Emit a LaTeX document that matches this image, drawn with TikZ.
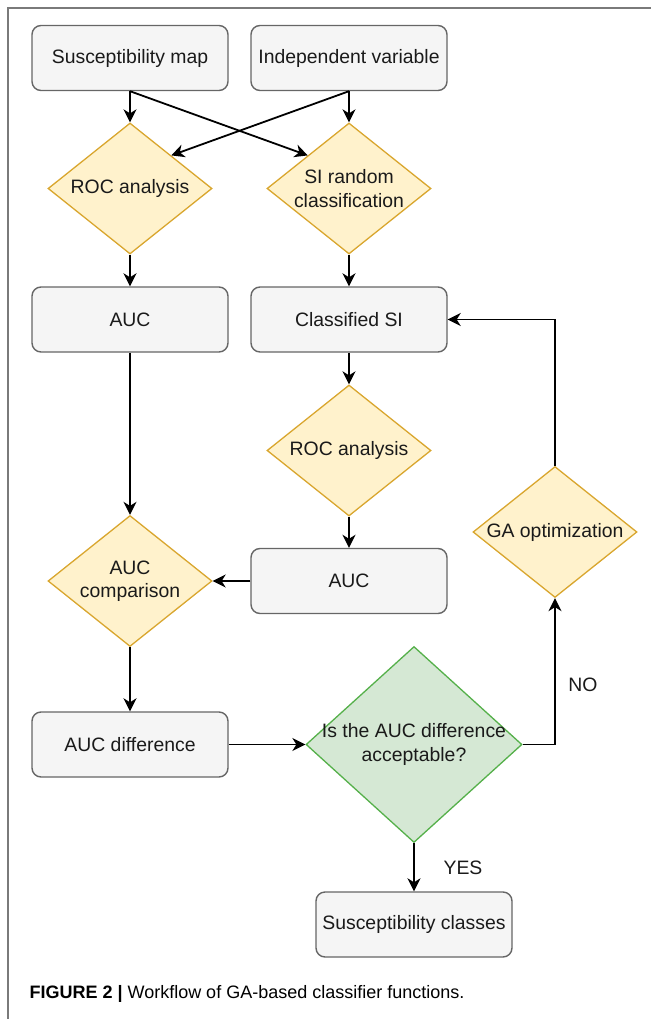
\documentclass[tikz,border=0pt]{standalone}
\usepackage{fontspec}
\setmainfont{Liberation Sans}
\usetikzlibrary{shapes.geometric,arrows.meta}
\definecolor{boxfill}{HTML}{F5F5F5}
\definecolor{boxline}{HTML}{666666}
\definecolor{yelfill}{HTML}{FFF2CC}
\definecolor{yelline}{HTML}{D9A62E}
\definecolor{grnfill}{HTML}{D5E8D4}
\definecolor{grnline}{HTML}{55B04A}
\definecolor{framec}{HTML}{7A7A7A}
\definecolor{txt}{HTML}{1A1A1A}

\begin{document}
\begin{tikzpicture}[x=1pt,y=-1pt,
  font=\fontsize{19.4}{23.3}\selectfont,
  >={Stealth[length=13pt,width=13pt,inset=4pt]},
  proc/.style={draw=boxline,fill=boxfill,line width=1.4pt,rounded corners=9pt,
    minimum width=196pt,minimum height=65pt,text=txt},
  test/.style={diamond,aspect=1.25,draw=yelline,fill=yelfill,line width=1.3pt,
    minimum width=164pt,minimum height=131pt,inner sep=0pt,align=center,text=txt},
  check/.style={test,draw=grnline,fill=grnfill,minimum width=216pt,minimum height=196pt},
  flow/.style={->,line width=1.8pt,black}]
\useasboundingbox (0,0) rectangle (651,1019);
\draw[framec,line width=2pt] (8,1019) -- (8,8) -- (651,8);

% inputs
\node[proc] (sus) at (130,58) {Susceptibility map};
\node[proc] (ind) at (349,58) {Independent variable};
\node[test] (roc1) at (130,188.5) {ROC analysis};
\node[test] (rnd) at (349,188.5) {SI random\\classification};

\node[proc] (auc1) at (130,319.5) {AUC};
\node[proc] (csi) at (349,319.5) {Classified SI};
\node[test] (roc2) at (349,450.5) {ROC analysis};
\node[test] (ga) at (555,532) {GA optimization};
\node[proc] (auc2) at (349,581) {AUC};
\node[test] (cmp) at (130,581) {AUC\\comparison};

\node[proc] (diff) at (130,744.5) {AUC difference};
\node[check,label={[align=center,text=txt]center:Is the AUC difference\\acceptable?}] (ok) at (414,744.5) {};
\node[proc] (cls) at (414,924.5) {Susceptibility classes};
\node[text=txt] (no) at (583,685) {NO};
\node[text=txt] (yes) at (463,868) {YES};

\draw[flow] (sus.south) -- (roc1.north);
\draw[flow] (sus.south) -- (rnd.north west);
\draw[flow] (ind.south) -- (rnd.north);
\draw[flow] (ind.south) -- (roc1.north east);
\draw[flow] (roc1) -- (auc1);
\draw[flow] (rnd) -- (csi);
\draw[flow] (csi) -- (roc2);
\draw[flow] (roc2) -- (auc2);
\draw[flow] (auc1) -- (cmp);
\draw[flow] (auc2) -- (cmp);
\draw[flow] (cmp) -- (diff);
\draw[flow] (diff) -- (ok);
\draw[flow] (ok.east) -| (ga.south);
\draw[flow] (ga.north) |- (csi.east);
\draw[flow] (ok) -- (cls);

\node[anchor=west,font=\fontsize{18}{21}\selectfont] (cap) at (26,994)
  {\textbf{FIGURE 2 |} Workflow of GA-based classifier functions.};
\end{tikzpicture}
\end{document}
